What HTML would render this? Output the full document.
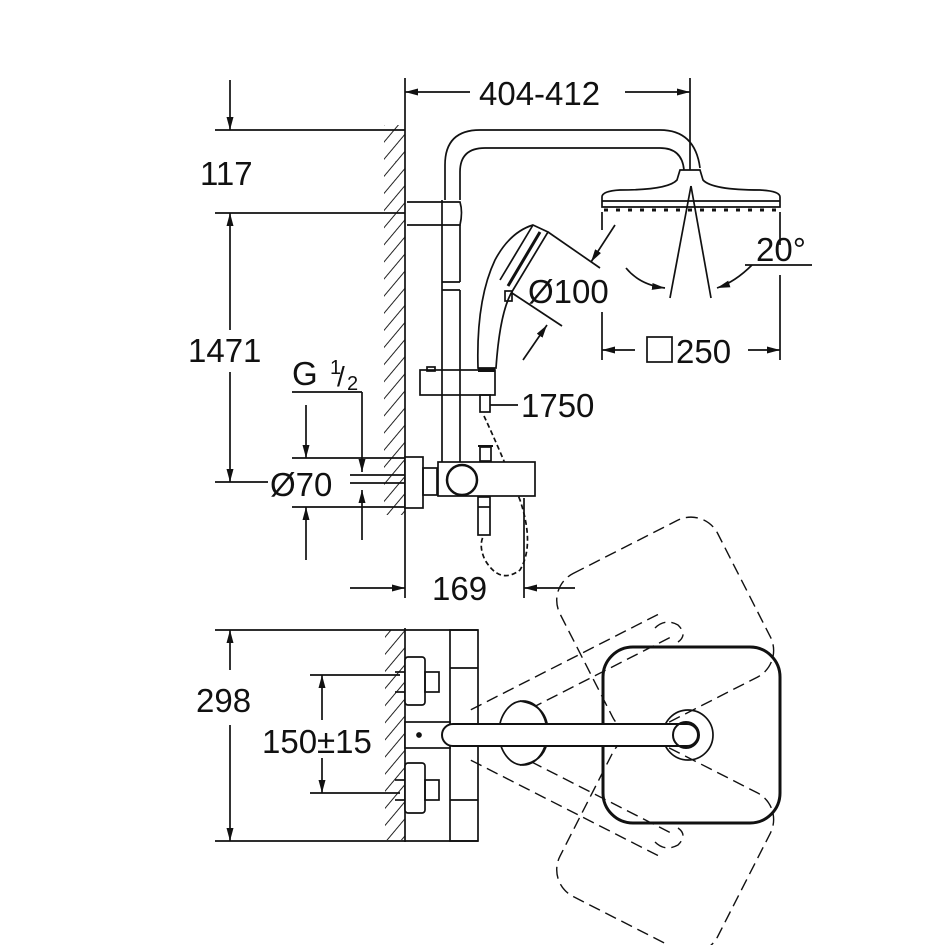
<!DOCTYPE html>
<html><head><meta charset="utf-8"><style>
html,body{margin:0;padding:0;background:#fff;}
svg{display:block;}
text{font-family:"Liberation Sans",sans-serif;fill:#111;}
</style></head><body>
<svg width="945" height="945" viewBox="0 0 945 945" xmlns="http://www.w3.org/2000/svg">
<defs>
<pattern id="h" patternUnits="userSpaceOnUse" width="11" height="11" patternTransform="rotate(40)">
<line x1="0" y1="0" x2="0" y2="11" stroke="#222" stroke-width="2"/>
</pattern>
<marker id="a" viewBox="0 0 10 10" refX="10" refY="5" markerWidth="13" markerHeight="7" markerUnits="userSpaceOnUse" orient="auto-start-reverse" preserveAspectRatio="none"><path d="M0,0L10,5L0,10z" fill="#111"/></marker>
</defs>
<g stroke="#111" fill="none" stroke-width="1.7">
<!-- walls -->
<rect x="384" y="125" width="21" height="390" fill="url(#h)" stroke="none"/>
<line x1="405" y1="78" x2="405" y2="598"/>
<rect x="385" y="630" width="20" height="210" fill="url(#h)" stroke="none"/>
<line x1="405" y1="628" x2="405" y2="842"/>
<!-- left dims top -->
<line x1="215" y1="130" x2="405" y2="130"/>
<line x1="215" y1="213" x2="405" y2="213"/>
<line x1="215" y1="482" x2="268" y2="482"/>
<line x1="230" y1="80" x2="230" y2="130" marker-end="url(#a)"/>
<line x1="230" y1="330" x2="230" y2="213" marker-end="url(#a)"/>
<line x1="230" y1="372" x2="230" y2="482" marker-end="url(#a)"/>
<!-- top dim 404-412 -->
<line x1="690" y1="78" x2="690" y2="170"/>
<line x1="470" y1="92" x2="405" y2="92" marker-end="url(#a)"/>
<line x1="625" y1="92" x2="690" y2="92" marker-end="url(#a)"/>
<!-- arm -->
<path d="M445,200 L445,165 Q445,130 480,130 L660,130 Q695,130 700,168"/>
<path d="M460,200 L460,172 Q460,148 485,148 L660,148 Q682,148 684,170"/>
<!-- head -->
<path d="M680,170 L700,170 L703,180 Q712,190 760,190 Q780,191 780,197 L780,207 L602,207 L602,197 Q602,191 620,190 Q668,190 677,180 Z" fill="#fff"/>
<line x1="602" y1="201" x2="780" y2="201"/>
<line x1="604" y1="210" x2="778" y2="210" stroke-dasharray="4 8" stroke-width="3"/>
<line x1="691" y1="186" x2="670" y2="298"/>
<line x1="691" y1="186" x2="711" y2="298"/>
<path d="M626,268 Q640,285 665,288" marker-end="url(#a)"/>
<path d="M752,265 Q735,282 717,288" marker-end="url(#a)"/>
<line x1="745" y1="265" x2="812" y2="265"/>
<line x1="602" y1="212" x2="602" y2="230"/>
<line x1="602" y1="312" x2="602" y2="360"/>
<line x1="780" y1="212" x2="780" y2="245"/>
<line x1="780" y1="275" x2="780" y2="360"/>
<line x1="635" y1="350" x2="602" y2="350" marker-end="url(#a)"/>
<line x1="748" y1="350" x2="780" y2="350" marker-end="url(#a)"/>
<rect x="647" y="337" width="25" height="25"/>
<!-- rail -->
<line x1="442" y1="200" x2="442" y2="465"/>
<line x1="460" y1="225" x2="460" y2="282"/>
<line x1="460" y1="290" x2="460" y2="465"/>
<line x1="442" y1="282" x2="460" y2="282"/><line x1="442" y1="290" x2="460" y2="290"/>
<path d="M407,202 L460,202 Q463,212 460,225 L407,225"/>
<!-- handshower -->
<path d="M478,368 Q476,300 495,260 Q510,232 533,225 L548,232 L513,290 Q500,310 496,368 Z" fill="#fff"/>
<line x1="533" y1="225" x2="500" y2="280"/>
<line x1="540" y1="232" x2="508" y2="286" stroke-width="3"/>
<rect x="505" y="291" width="7" height="10"/>
<line x1="548" y1="232" x2="600" y2="268"/>
<line x1="512" y1="293" x2="562" y2="326"/>
<line x1="615" y1="225" x2="591" y2="262" marker-end="url(#a)"/>
<line x1="523" y1="360" x2="547" y2="325" marker-end="url(#a)"/>
<!-- slider -->
<rect x="420" y="370" width="75" height="25" fill="#fff"/>
<line x1="442" y1="370" x2="442" y2="395"/><line x1="460" y1="370" x2="460" y2="395"/>
<rect x="427" y="367" width="8" height="4"/>
<path d="M478,370 L495,370" stroke-width="4"/>
<rect x="480" y="395" width="10" height="17"/>
<line x1="490" y1="405" x2="518" y2="405"/>
<path d="M484,416 Q500,450 520,500 Q535,545 520,570 Q500,585 485,560 Q478,545 484,535" stroke-dasharray="5 3"/>
<!-- mixer side -->
<rect x="405" y="457" width="18" height="51" fill="#fff"/>
<rect x="423" y="468" width="14" height="27"/>
<line x1="350" y1="475" x2="405" y2="475"/><line x1="350" y1="483" x2="405" y2="483"/>
<rect x="438" y="462" width="97" height="34" fill="#fff"/>
<circle cx="462" cy="480" r="15" fill="#fff" stroke-width="2.5"/>
<rect x="480" y="447" width="11" height="14"/>
<line x1="478" y1="446" x2="493" y2="446" stroke-width="2"/>
<rect x="478" y="497" width="12" height="38"/>
<line x1="478" y1="507" x2="490" y2="507"/>
<line x1="524" y1="498" x2="524" y2="598"/>
<!-- G1/2 & Ø70 -->
<line x1="292" y1="392" x2="362" y2="392"/>
<line x1="362" y1="392" x2="362" y2="472" marker-end="url(#a)"/>
<line x1="362" y1="540" x2="362" y2="490" marker-end="url(#a)"/>
<line x1="292" y1="458" x2="405" y2="458"/>
<line x1="292" y1="507" x2="405" y2="507"/>
<line x1="306" y1="405" x2="306" y2="458" marker-end="url(#a)"/>
<line x1="306" y1="560" x2="306" y2="507" marker-end="url(#a)"/>
<!-- 169 -->
<line x1="350" y1="588" x2="405" y2="588" marker-end="url(#a)"/>
<line x1="575" y1="588" x2="524" y2="588" marker-end="url(#a)"/>
<!-- bottom view dims -->
<line x1="215" y1="630" x2="478" y2="630"/>
<line x1="215" y1="841" x2="478" y2="841"/>
<line x1="230" y1="670" x2="230" y2="630" marker-end="url(#a)"/>
<line x1="230" y1="725" x2="230" y2="841" marker-end="url(#a)"/>
<line x1="310" y1="675" x2="400" y2="675"/>
<line x1="310" y1="793" x2="400" y2="793"/>
<line x1="322" y1="720" x2="322" y2="675" marker-end="url(#a)"/>
<line x1="322" y1="758" x2="322" y2="793" marker-end="url(#a)"/>
<!-- bottom mixer -->
<rect x="450" y="630" width="28" height="211"/>
<line x1="450" y1="668" x2="478" y2="668"/><line x1="450" y1="800" x2="478" y2="800"/>
<rect x="405" y="657" width="20" height="48" rx="3" fill="#fff"/>
<rect x="405" y="763" width="20" height="50" rx="3" fill="#fff"/>
<rect x="425" y="672" width="14" height="20"/><rect x="425" y="780" width="14" height="20"/>
<line x1="395" y1="672" x2="405" y2="672"/><line x1="395" y1="692" x2="405" y2="692"/>
<line x1="395" y1="780" x2="405" y2="780"/><line x1="395" y1="800" x2="405" y2="800"/>
<!-- dashed rotated -->
<g stroke-dasharray="12 6" stroke-width="1.4">
<g transform="rotate(-27 450 735)">
<rect x="603" y="647" width="177" height="176" rx="30"/>
<line x1="480" y1="722" x2="690" y2="722"/><line x1="480" y1="748" x2="690" y2="748"/>
</g>
<g transform="rotate(27 450 735)">
<rect x="603" y="647" width="177" height="176" rx="30"/>
<line x1="480" y1="722" x2="690" y2="722"/><line x1="480" y1="748" x2="690" y2="748"/>
</g>
<path d="M655,628 Q665,618 678,625 Q688,635 678,642"/>
<path d="M655,842 Q665,852 678,845 Q688,835 678,828"/>
</g>
<!-- arm top view -->
<rect x="405" y="722" width="45" height="26" fill="#fff"/>
<ellipse cx="523" cy="733" rx="24" ry="32" fill="#fff"/>
<path d="M520,701 Q548,705 548,733 Q548,762 520,765"/>
<rect x="603" y="647" width="177" height="176" rx="30" stroke-width="3" fill="none"/>
<circle cx="688" cy="735" r="25"/>
<rect x="442" y="724" width="256" height="22" rx="11" fill="#fff" stroke-width="2"/>
<circle cx="686" cy="735" r="13" stroke-width="2"/>
<circle cx="419" cy="735" r="2" fill="#111"/>
</g>
<g font-size="33">
<text x="479" y="105">404-412</text>
<text x="200" y="185">117</text>
<text x="188" y="362">1471</text>
<text x="756" y="261">20°</text>
<text x="528" y="303">Ø100</text>
<text x="676" y="363">250</text>
<text x="521" y="417">1750</text>
<text x="292" y="385">G</text>
<text x="330" y="374" font-size="20">1</text>
<text x="337" y="386" font-size="28">/</text>
<text x="347" y="390" font-size="20">2</text>
<text x="270" y="496">Ø70</text>
<text x="432" y="600">169</text>
<text x="196" y="712">298</text>
<text x="262" y="753">150±15</text>
</g>
</svg>
</body></html>
